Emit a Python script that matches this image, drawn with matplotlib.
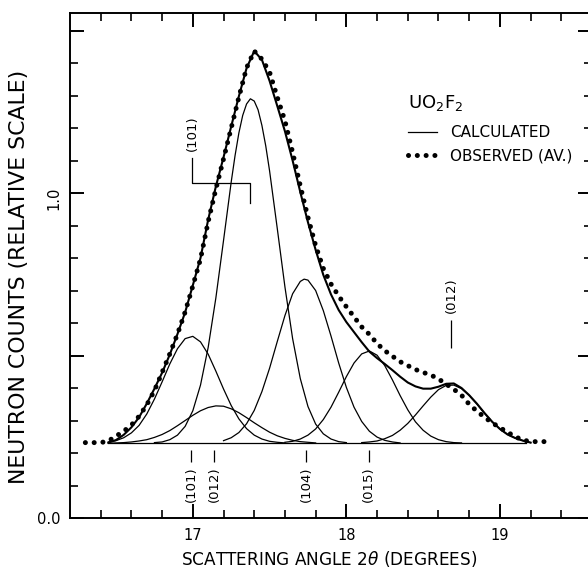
import numpy as np
import matplotlib.pyplot as plt

# observed (averaged) neutron counts
angle_obs = np.round(np.arange(16.30, 19.301, 0.05), 2)
counts_obs = [0.232, 0.232, 0.232, 0.237, 0.252, 0.267, 0.286, 0.313, 0.348, 0.392,
              0.448, 0.505, 0.566, 0.634, 0.714, 0.797, 0.912, 1.012, 1.105, 1.200,
              1.295, 1.385, 1.437, 1.412, 1.372, 1.295, 1.222, 1.125, 1.022, 0.925,
              0.838, 0.768, 0.720, 0.683, 0.650, 0.619, 0.588, 0.565, 0.537, 0.515,
              0.498, 0.481, 0.469, 0.457, 0.448, 0.440, 0.428, 0.412, 0.396, 0.378,
              0.350, 0.329, 0.310, 0.293, 0.278, 0.264, 0.250, 0.240, 0.235, 0.235,
              0.235]

# calculated total profile
angle_calc = np.round(np.arange(16.45, 19.201, 0.05), 2)
counts_calc = [0.232, 0.240, 0.256, 0.279, 0.310, 0.352, 0.398, 0.447, 0.503, 0.566,
               0.633, 0.716, 0.800, 0.918, 1.020, 1.110, 1.205, 1.298, 1.384, 1.437,
               1.410, 1.345, 1.268, 1.190, 1.100, 1.003, 0.910, 0.825, 0.748, 0.688,
               0.640, 0.603, 0.572, 0.541, 0.512, 0.492, 0.474, 0.455, 0.435, 0.417,
               0.405, 0.398, 0.398, 0.404, 0.413, 0.414, 0.400, 0.378, 0.352, 0.323,
               0.296, 0.274, 0.257, 0.246, 0.238, 0.232]

# calculated single reflections
angle_101a = np.round(np.arange(16.45, 17.601, 0.05), 2)
counts_101a = [0.234, 0.238, 0.247, 0.262, 0.285, 0.320, 0.366, 0.419, 0.474, 0.521,
               0.552, 0.559, 0.542, 0.504, 0.452, 0.397, 0.346, 0.305, 0.275, 0.255,
               0.243, 0.236, 0.233, 0.231]

angle_012a = np.round(np.arange(16.45, 17.801, 0.05), 2)
counts_012a = [0.230, 0.231, 0.232, 0.234, 0.237, 0.241, 0.248, 0.257, 0.269, 0.284,
               0.300, 0.316, 0.330, 0.340, 0.345, 0.344, 0.336, 0.324, 0.309, 0.293,
               0.278, 0.264, 0.253, 0.245, 0.239, 0.235, 0.233, 0.231]

angle_101b = [16.75, 16.80, 16.85, 16.90, 16.95, 17.00, 17.05, 17.10, 17.15, 17.20,
              17.25, 17.275, 17.30, 17.325, 17.35, 17.375, 17.40, 17.425, 17.45, 17.475,
              17.50, 17.55, 17.60, 17.65, 17.70, 17.75, 17.80, 17.85, 17.90, 17.95, 18.00]
counts_101b = [0.232, 0.234, 0.241, 0.255, 0.282, 0.330, 0.409, 0.525, 0.677, 0.854,
               1.034, 1.115, 1.185, 1.239, 1.274, 1.290, 1.283, 1.256, 1.208, 1.145,
               1.068, 0.891, 0.711, 0.552, 0.429, 0.343, 0.289, 0.259, 0.243, 0.235, 0.232]

angle_104 = [17.20, 17.25, 17.30, 17.35, 17.40, 17.45, 17.50, 17.55, 17.60, 17.65,
             17.70, 17.725, 17.75, 17.80, 17.85, 17.90, 17.95, 18.00, 18.05, 18.10,
             18.15, 18.20, 18.25, 18.30, 18.35]
counts_104 = [0.238, 0.247, 0.263, 0.290, 0.331, 0.389, 0.461, 0.543, 0.623, 0.690,
              0.728, 0.735, 0.732, 0.700, 0.638, 0.560, 0.477, 0.402, 0.341, 0.297,
              0.267, 0.249, 0.239, 0.234, 0.231]

angle_015 = np.round(np.arange(17.60, 18.751, 0.05), 2)
counts_015 = [0.233, 0.236, 0.243, 0.255, 0.274, 0.303, 0.341, 0.387, 0.435, 0.477,
              0.505, 0.514, 0.501, 0.469, 0.425, 0.377, 0.333, 0.296, 0.270, 0.252,
              0.241, 0.235, 0.232, 0.231]

angle_012b = np.round(np.arange(18.10, 19.201, 0.05), 2)
counts_012b = [0.232, 0.234, 0.237, 0.244, 0.254, 0.270, 0.291, 0.317, 0.345, 0.372,
               0.395, 0.408, 0.409, 0.398, 0.377, 0.351, 0.322, 0.296, 0.274, 0.257,
               0.246, 0.238, 0.232]

background_angle = [16.45, 19.17]
background_counts = [0.23, 0.23]

# reflection markers under the profile
refl_labels = ['(101)', '(012)', '(104)', '(015)']
refl_angles = [16.99, 17.14, 17.74, 18.145]

fig = plt.figure(figsize=(5.88, 5.71), dpi=100)
ax = fig.add_axes([70 / 588, 53 / 571, 522 / 588, 505 / 571])

thin = dict(color='black', lw=0.9)
ax.plot(background_angle, background_counts, **thin)
comp = ax.plot(angle_101a, counts_101a, label='CALCULATED', **thin)[0]
ax.plot(angle_012a, counts_012a, **thin)
ax.plot(angle_101b, counts_101b, **thin)
ax.plot(angle_104, counts_104, **thin)
ax.plot(angle_015, counts_015, **thin)
ax.plot(angle_012b, counts_012b, **thin)
ax.plot(angle_calc, counts_calc, color='black', lw=1.5)
obs = ax.plot(angle_obs, counts_obs, color='black', lw=3.6, linestyle=(0, (0.01, 1.75)),
              dash_capstyle='round', label='OBSERVED (AV.)')[0]

# reflection labels
ax.vlines(refl_angles, 0.172, 0.209, color='black', lw=0.9)
for lab, ang in zip(refl_labels, refl_angles):
    ax.text(ang, 0.16, lab, rotation=90, ha='center', va='top', fontsize=9.5)

ax.plot([16.995, 16.995, 17.37, 17.37], [1.108, 1.032, 1.032, 0.970], color='black', lw=0.9)
ax.text(17.0, 1.13, '(101)', rotation=90, ha='center', va='bottom', fontsize=9.5)

ax.vlines([18.68], 0.522, 0.609, color='black', lw=0.9)
ax.text(18.685, 0.632, '(012)', rotation=90, ha='center', va='bottom', fontsize=9.5)

ax.text(0.6475, 0.812, r'UO$_2$F$_2$', transform=ax.transAxes, fontsize=13,
        ha='left', va='baseline')
ax.legend(handles=[comp, obs], loc='upper left',
          bbox_to_anchor=(0.6475, 0.778), frameon=False, fontsize=11,
          handlelength=1.9, handletextpad=0.85, labelspacing=0.53, borderpad=0,
          borderaxespad=0)

ax.set_xlim(16.2, 19.6)
ax.set_ylim(0.0, 1.554)

ax.set_xticks([17, 18, 19])
ax.set_xticklabels(['17', '18', '19'])
ax.set_xticks(np.arange(16.4, 19.6, 0.2), minor=True)
ax.set_yticks([0.0, 0.5, 1.0, 1.5])
ax.set_yticklabels(['0.0', '', '1.0', ''])
ax.set_yticks(np.arange(0.1, 1.55, 0.1), minor=True)
ax.tick_params(which='both', direction='in', top=True, right=True, labelsize=10.5)
ax.tick_params(which='major', length=10, width=1.4)
ax.tick_params(which='minor', length=6, width=1.2)
ax.tick_params(axis='x', pad=7.5)
ax.tick_params(axis='y', pad=6.5)
ax.get_yticklabels()[2].set_rotation(90)
for sp in ax.spines.values():
    sp.set_linewidth(1.4)

ax.set_xlabel(r'SCATTERING ANGLE 2$\theta$ (DEGREES)', fontsize=12.2)
ax.set_ylabel('NEUTRON COUNTS (RELATIVE SCALE)', fontsize=15.8)
ax.xaxis.set_label_coords(0.496, -0.061)
ax.yaxis.set_label_coords(-0.078, 0.478)

fig.savefig('out.png', dpi=100)
